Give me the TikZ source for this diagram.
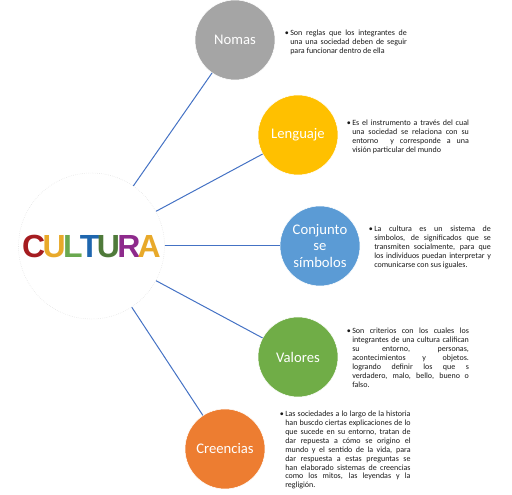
\documentclass[tikz,border=0pt]{standalone}
\usepackage{xcolor}
\usepackage{fontspec}
\setmainfont{Carlito}
\newfontfamily\logofont{Liberation Sans}
\usetikzlibrary{positioning}
\definecolor{cgray}{HTML}{A5A5A5}
\definecolor{cyellow}{HTML}{FFC000}
\definecolor{cblue}{HTML}{5B9BD5}
\definecolor{cgreen}{HTML}{70AD47}
\definecolor{corange}{HTML}{ED7D31}
\definecolor{cline}{HTML}{4472C4}
\definecolor{lred}{HTML}{A51C20}
\definecolor{lamber}{HTML}{E8A92A}
\definecolor{lgreen}{HTML}{6AA84F}
\definecolor{lblue}{HTML}{1F66AE}
\definecolor{ldark}{HTML}{4F7A3A}
\definecolor{lviolet}{HTML}{8E2A8C}
\newcommand{\lt}[2]{\textcolor{#1}{#2}\kern-2pt}
\newcommand{\bul}{\leavevmode\llap{\textbullet\kern1pt}}
\tikzset{
  hub/.style={circle,draw=gray!25,densely dotted,minimum size=109.5pt,inner sep=0pt,font=\logofont\bfseries\fontsize{24}{24}\selectfont},
  blob/.style={circle,draw=white,fill=#1,minimum size=60pt,inner sep=0pt,align=center,text=white,font=\fontsize{11}{12.7}\selectfont},
  note/.style={anchor=north west,inner sep=0pt,text width=#1,align=justify,text=black!90,font=\fontsize{6}{6.65}\selectfont},
  lnk/.style={draw=cline,line width=0.75pt},
}
\begin{document}
\begin{tikzpicture}[x=0.75pt,y=-0.75pt]
  \useasboundingbox (0,0) rectangle (512,495);
  \node[hub] (cul) at (91.5,246) {\lt{lred}{C}\lt{lamber}{U}\lt{lgreen}{L}\lt{lblue}{T}\lt{ldark}{U}\lt{lviolet}{R}\textcolor{lamber}{A}};
  \node[blob=cgray] (nom) at (235,40) {Nomas};
  \node[blob=cyellow] (len) at (298,135) {Lenguaje};
  \node[blob=cblue] (con) at (320,246) {Conjunto\\se\\símbolos};
  \node[blob=cgreen] (val) at (298,357) {Valores};
  \node[blob=corange] (cre) at (225,449) {Creencias};
  \draw[lnk] (cul) -- (nom);
  \draw[lnk] (cul) -- (len);
  \draw[lnk] (cul) -- (con);
  \draw[lnk] (cul) -- (val);
  \draw[lnk] (cul) -- (cre);
  \node[note=87.5pt] (tnom) at (290,29.5) {\bul Son reglas que los integrantes de\linebreak una una sociedad deben de seguir\linebreak para funcionar dentro de ella};
  \node[note=87.5pt] (tlen) at (352,120) {\bul Es el instrumento a través del cual\linebreak una sociedad se relaciona con su\linebreak entorno \ y corresponde a una\linebreak visión particular del mundo};
  \node[note=87.5pt] (tcon) at (374,226) {\bul La cultura es un sistema de\linebreak símbolos, de significados que se\linebreak transmiten socialmente, para que\linebreak los individuos puedan interpretar y\linebreak comunicarse con sus iguales.};
  \node[note=87.5pt] (tval) at (352,328) {\bul Son criterios con los cuales los\linebreak integrantes de una cultura califican\linebreak su entorno, personas,\linebreak acontecimientos y objetos.\linebreak logrando definir los que s\linebreak verdadero, malo, bello, bueno o\linebreak falso.};
  \node[note=94pt] (tcre) at (285,411) {\bul Las sociedades a lo largo de la historia\linebreak han buscdo ciertas explicaciones de lo\linebreak que sucede en su entorno, tratan de\linebreak dar repuesta a cómo se origino el\linebreak mundo y el sentido de la vida, para\linebreak dar respuesta a estas preguntas se\linebreak han elaborado sistemas de creencias\linebreak como los mitos, las leyendas y la\linebreak regligión.};
\end{tikzpicture}
\end{document}
